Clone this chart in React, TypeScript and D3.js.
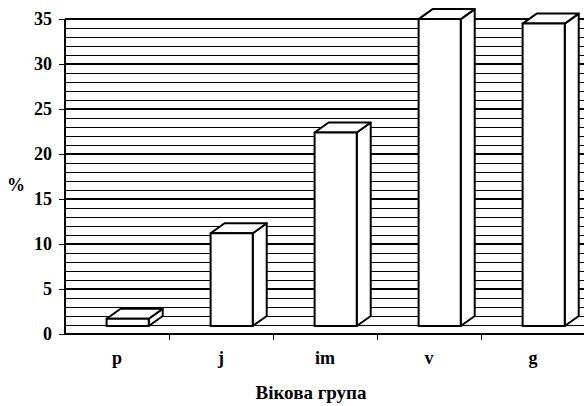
import React from 'react';
import * as d3 from 'd3';

const categories: string[] = ['p', 'j', 'im', 'v', 'g'];
const values: number[] = [0.8, 10.3, 21.5, 34.1, 33.6];
const yTicks: number[] = [0, 5, 10, 15, 20, 25, 30, 35];

const width = 584;
const height = 406;
const left = 65;
const right = 585;
const plotTop = 19;
const plotBottom = 334;
// oblique offset of the bar depth and lift of the bars above the axis line
const depthX = 14;
const depthY = -10;
const lift = 8;
const serif = "'Liberation Serif'";

const App: React.FC = () => {
    const x = d3.scaleBand<string>().domain(categories).range([left, right]).paddingInner(0).paddingOuter(0);
    const y = d3.scaleLinear().domain([0, 35]).range([plotBottom, plotTop]);
    const gridValues = d3.range(0, 36, 1);
    const barW = x.bandwidth() * 0.405;
    const barOffset = x.bandwidth() * 0.4;

    return (
        <svg width={width} height={height} style={{ position: 'absolute', left: 0, top: 0, background: '#fff' }}>
            <g shapeRendering="crispEdges">
                {gridValues.map(v => (
                    <line key={v} x1={left} x2={width} y1={Math.round(y(v))} y2={Math.round(y(v))}
                        stroke="#000" strokeWidth={v % 5 === 0 ? 2 : 1} />
                ))}
                <line x1={left} x2={left} y1={plotTop} y2={plotBottom} stroke="#000" strokeWidth={2} />
                {yTicks.map(v => (
                    <line key={v} x1={left - 6} x2={left} y1={Math.round(y(v))} y2={Math.round(y(v))}
                        stroke="#000" strokeWidth={1} />
                ))}
                {categories.slice(1).map(c => (
                    <line key={c} x1={x(c)} x2={x(c)} y1={plotBottom} y2={plotBottom + 6} stroke="#000" strokeWidth={1} />
                ))}
            </g>
            {yTicks.map(v => (
                <text key={v} x={52} y={y(v)} dy="0.33em" textAnchor="end" fontSize={18} fontWeight="bold"
                    style={{ fontFamily: serif }}>{v}</text>
            ))}
            {categories.map((c, i) => {
                const x0 = (x(c) as number) + barOffset;
                const x1 = x0 + barW;
                const yb = y(0) - lift;
                const yt = y(values[i]) - lift;
                const topFace = [[x0, yt], [x0 + depthX, yt + depthY], [x1 + depthX, yt + depthY], [x1, yt]];
                const sideFace = [[x1, yt], [x1 + depthX, yt + depthY], [x1 + depthX, yb + depthY], [x1, yb]];
                return (
                    <g key={c} stroke="#000" strokeWidth={2} fill="#fff" strokeLinejoin="round">
                        <polygon points={sideFace.map(p => p.join(',')).join(' ')} />
                        <polygon points={topFace.map(p => p.join(',')).join(' ')} />
                        <rect x={x0} y={yt} width={barW} height={yb - yt} />
                    </g>
                );
            })}
            {categories.map(c => (
                <text key={c} x={(x(c) as number) + x.bandwidth() / 2} y={364} textAnchor="middle"
                    fontSize={18} fontWeight="bold" style={{ fontFamily: serif }}>{c}</text>
            ))}
            <text x={16} y={191} textAnchor="middle" fontSize={18} fontWeight="bold" style={{ fontFamily: serif }}>%</text>
            <text x={311} y={399} textAnchor="middle" fontSize={19} fontWeight="bold" style={{ fontFamily: serif }}>Вікова група</text>
        </svg>
    );
};

export default App;
